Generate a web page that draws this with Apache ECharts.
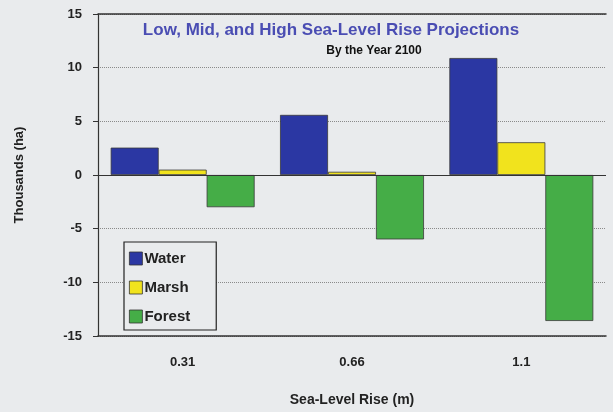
<!DOCTYPE html>
<html lang="en">
<head>
    <meta charset="UTF-8">
    <title>Sea-Level Rise Projections</title>
    <script type="text/javascript" src="https://cdn.jsdelivr.net/npm/echarts@6/dist/echarts.min.js"></script>
    <style>
        html, body { margin: 0; padding: 0; background: #e9ebed; }
    </style>
</head>
<body>
<div id="main" style="width:613px;height:412px;"></div>
<script>
    // categories (sea-level rise, m)
    const rises = ['0.31', '0.66', '1.1'];
    // change by 2100, thousands of ha
    const water = [2.55, 5.6, 10.9];
    const marsh = [0.5, 0.3, 3.05];
    const forest = [-3.0, -6.0, -13.6];

    const font = '"Liberation Sans Narrow", "Liberation Sans", Arial, sans-serif';

    let myChart = echarts.init(document.getElementById('main'));

    function bar(name, data, color) {
        return {
            name: name,
            type: 'bar',
            data: data,
            barGap: '0%',
            barCategoryGap: '15%',
            itemStyle: { color: color, borderColor: '#3a3a3a', borderWidth: 0.8 }
        };
    }

    let series = [
        bar('Water', water, '#2b37a3'),
        bar('Marsh', marsh, '#f1e31d'),
        bar('Forest', forest, '#45ad47')
    ];
    // solid zero line
    series[0].markLine = {
        silent: true,
        symbol: 'none',
        label: { show: false },
        lineStyle: { color: '#333', type: 'solid', width: 1.2 },
        data: [{ yAxis: 0 }]
    };

    let option = {
        backgroundColor: '#e9ebed',
        animation: false,
        title: [
            {
                text: 'Low, Mid, and High Sea-Level Rise Projections',
                left: 326, top: 17, textAlign: 'center',
                textStyle: { fontFamily: font, fontSize: 17, fontWeight: 'bold', color: '#4a4db3' }
            },
            {
                text: 'By the Year 2100',
                left: 369, top: 40, textAlign: 'center',
                textStyle: { fontFamily: font, fontSize: 12, fontWeight: 'bold', color: '#111' }
            }
        ],
        legend: {
            orient: 'vertical',
            left: 124, top: 242,
            data: ['Water', 'Marsh', 'Forest'],
            icon: 'rect',
            itemWidth: 13, itemHeight: 13,
            itemGap: 14,
            padding: [9, 26, 6, 5],
            borderColor: '#222',
            borderWidth: 1.2,
            backgroundColor: '#e9ebed',
            itemStyle: { borderColor: '#333', borderWidth: 0.8 },
            textStyle: { fontFamily: font, fontSize: 15, fontWeight: 'bold', color: '#222', padding: [0, 0, 0, -3] }
        },
        grid: { left: 98, right: 7, top: 14, bottom: 71 },
        xAxis: [
            {
                type: 'category',
                data: rises,
                position: 'bottom',
                name: 'Sea-Level Rise (m)',
                nameLocation: 'middle',
                nameGap: 57,
                nameTextStyle: { fontFamily: font, fontSize: 14, fontWeight: 'bold', color: '#222' },
                axisLine: { onZero: false, lineStyle: { color: '#333', width: 1.5 } },
                axisTick: { alignWithLabel: true, length: 6, lineStyle: { color: '#333' } },
                axisLabel: { margin: 20, fontFamily: font, fontSize: 13, fontWeight: 'bold', color: '#222' }
            },
            {
                type: 'category',
                data: rises,
                position: 'top',
                axisLine: { onZero: false, lineStyle: { color: '#333', width: 1.5 } },
                axisTick: { show: false },
                axisLabel: { show: false }
            }
        ],
        yAxis: {
            type: 'value',
            min: -15, max: 15, interval: 5,
            name: 'Thousands (ha)',
            nameLocation: 'middle',
            nameGap: 72,
            nameTextStyle: { fontFamily: font, fontSize: 13, fontWeight: 'bold', color: '#222' },
            axisLine: { show: true, lineStyle: { color: '#333', width: 1.2 } },
            axisTick: { show: true, length: 5, lineStyle: { color: '#333' } },
            axisLabel: { margin: 16, fontFamily: font, fontSize: 13, fontWeight: 'bold', color: '#222' },
            splitLine: { show: true, lineStyle: { color: '#8a8a8a', type: 'dotted', width: 1 } }
        },
        series: series
    };

    myChart.setOption(option);
</script>
</body>
</html>
